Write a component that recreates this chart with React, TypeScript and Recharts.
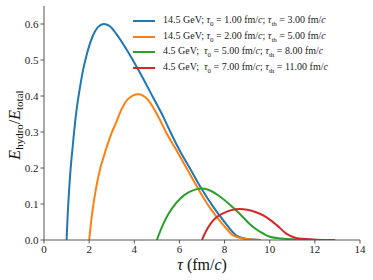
import { LineChart, Line, XAxis, YAxis } from 'recharts'

// tau (fm/c) and E_hydro/E_total for each run
const tauA = [1.0, 1.05, 1.14, 1.29, 1.43, 1.61, 1.73, 1.88, 2.17, 2.4, 2.65, 2.9, 3.21, 3.65, 4.24, 4.8, 5.3, 5.6, 6.0, 6.5, 7.0, 7.5, 8.0, 8.53, 9.0, 9.6]
const eA = [0, 0.07, 0.165, 0.272, 0.355, 0.43, 0.472, 0.512, 0.568, 0.592, 0.6, 0.595, 0.572, 0.53, 0.466, 0.4, 0.34, 0.3, 0.25, 0.195, 0.14, 0.092, 0.05, 0.012, 0.003, 0]

const tauB = [2.0, 2.13, 2.37, 2.8, 3.0, 3.2, 3.43, 3.73, 4.17, 4.6, 5.0, 5.4, 5.87, 6.4, 6.9, 7.4, 7.9, 8.38, 8.8, 9.56]
const eB = [0, 0.072, 0.165, 0.262, 0.298, 0.327, 0.362, 0.392, 0.405, 0.39, 0.35, 0.3, 0.249, 0.19, 0.135, 0.085, 0.045, 0.013, 0.004, 0]

const tauC = [5.0, 5.2, 5.43, 5.72, 6.02, 6.4, 6.7, 6.98, 7.3, 7.7, 8.2, 8.68, 9.12, 9.6, 10.0, 10.5, 11.0, 12.1]
const eC = [0, 0.032, 0.063, 0.092, 0.114, 0.132, 0.14, 0.143, 0.139, 0.125, 0.1, 0.072, 0.044, 0.022, 0.009, 0.004, 0.002, 0.001]

const tauD = [7.0, 7.2, 7.4, 7.64, 8.0, 8.3, 8.68, 9.0, 9.4, 9.86, 10.3, 10.75, 11.1, 11.3, 12.0, 12.9]
const eD = [0, 0.027, 0.047, 0.063, 0.076, 0.083, 0.086, 0.084, 0.077, 0.063, 0.042, 0.017, 0.007, 0.004, 0.001, 0]

const xTicks = [0, 2, 4, 6, 8, 10, 12, 14]
const yTicks = [0, 0.1, 0.2, 0.3, 0.4, 0.5, 0.6]

const runs = [
  { key: 'a', tau: tauA, e: eA, color: '#1f77b4', energy: '14.5 GeV;', t0: '1.00', tth: '3.00' },
  { key: 'b', tau: tauB, e: eB, color: '#ff7f0e', energy: '14.5 GeV;', t0: '2.00', tth: '5.00' },
  { key: 'c', tau: tauC, e: eC, color: '#2ca02c', energy: '4.5 GeV;\u00a0', t0: '5.00', tth: '8.00' },
  { key: 'd', tau: tauD, e: eD, color: '#d62728', energy: '4.5 GeV;\u00a0', t0: '7.00', tth: '11.00' },
]

const FONT = '"Liberation Serif", "DejaVu Serif", serif'
const AXIS = '#555'

function YLabel() {
  return (
    <text x={0} y={0} transform="translate(20 125) rotate(-90)" textAnchor="middle" fontFamily={FONT} fontSize={16} fill="#111">
      <tspan fontStyle="italic">E</tspan>
      <tspan fontSize={11} dy={3}>hydro</tspan>
      <tspan dy={-3}>/</tspan>
      <tspan fontStyle="italic">E</tspan>
      <tspan fontSize={11} dy={3}>total</tspan>
    </text>
  )
}

function XLabel() {
  return (
    <text x={202} y={270} textAnchor="middle" fontFamily={FONT} fontSize={16} fill="#111">
      <tspan fontStyle="italic">τ</tspan> (fm/<tspan fontStyle="italic">c</tspan>)
    </text>
  )
}

export default function App() {
  return (
    <div style={{ position: 'absolute', left: 0, top: 0, width: 373, height: 280, background: '#fff' }}>
      <LineChart width={373} height={280} margin={{ top: 6, right: 13, left: 0, bottom: 0 }}>
        <XAxis
          xAxisId="main"
          type="number"
          dataKey="t"
          domain={[0, 14]}
          ticks={xTicks}
          height={40}
          stroke={AXIS}
          tickSize={3.5}
          tick={{ fontFamily: FONT, fontSize: 11, fill: '#222' }}
          tickLine={{ stroke: AXIS }}
          allowDataOverflow
        />
        <XAxis xAxisId="top" orientation="top" type="number" domain={[0, 14]} height={0} stroke={AXIS} tick={false} tickLine={false} />
        <YAxis
          yAxisId="main"
          type="number"
          domain={[0, 0.65]}
          ticks={yTicks}
          width={44}
          stroke={AXIS}
          tickSize={3.5}
          tickFormatter={(v: number) => v.toFixed(1)}
          tick={{ fontFamily: FONT, fontSize: 11, fill: '#222' }}
          tickLine={{ stroke: AXIS }}
          allowDataOverflow
        />
        <YAxis yAxisId="right" orientation="right" type="number" domain={[0, 0.65]} width={0} stroke={AXIS} tick={false} tickLine={false} />
        {runs.map((r) => (
          <Line
            key={r.key}
            xAxisId="main"
            yAxisId="main"
            data={r.tau.map((t, i) => ({ t, v: r.e[i] }))}
            dataKey="v"
            type="monotone"
            stroke={r.color}
            strokeWidth={2}
            dot={false}
            isAnimationActive={false}
          />
        ))}
        <YLabel />
        <XLabel />
      </LineChart>
      <div style={{ position: 'absolute', left: 133, top: 13, fontFamily: FONT, fontSize: 10, color: '#222' }}>
        {runs.map((r) => (
          <div key={r.key} style={{ display: 'flex', alignItems: 'center', height: 15.7, whiteSpace: 'nowrap' }}>
            <span style={{ display: 'inline-block', width: 22, height: 2, background: r.color, marginRight: 8 }} />
            <span>
              {r.energy} <i>τ</i>
              <sub style={{ fontSize: 7 }}>0</sub> = {r.t0} fm/<i>c</i>; <i>τ</i>
              <sub style={{ fontSize: 7 }}>th</sub> = {r.tth} fm/<i>c</i>
            </span>
          </div>
        ))}
      </div>
    </div>
  )
}
